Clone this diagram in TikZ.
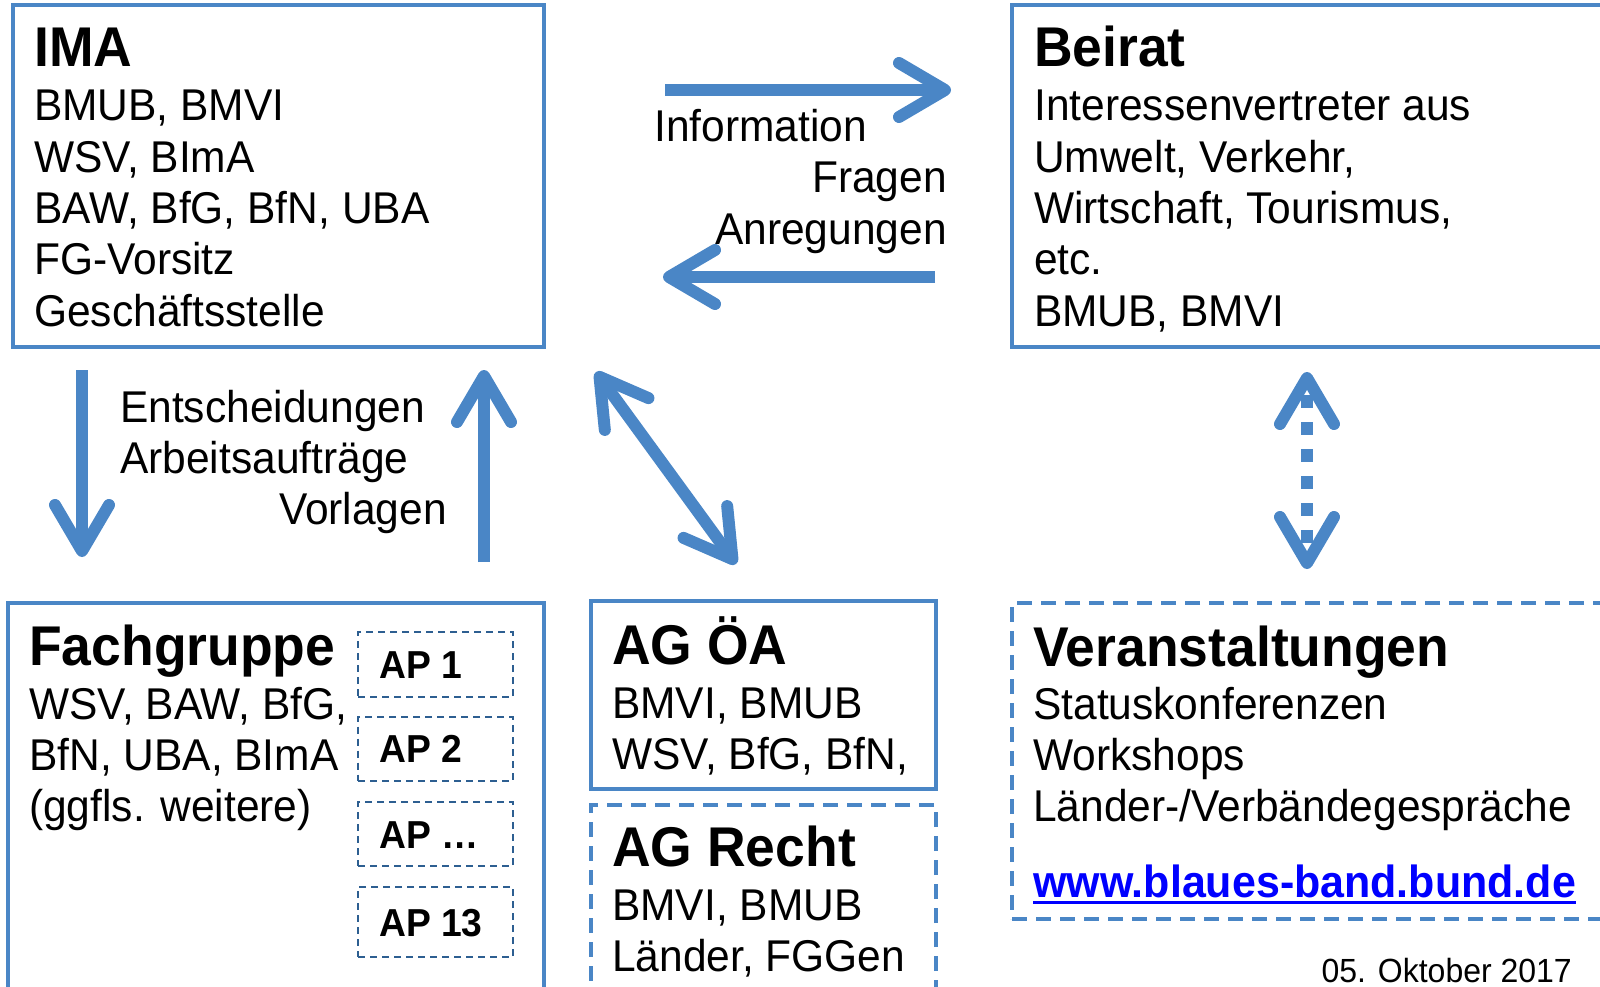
\documentclass[tikz,border=0pt]{standalone}
\usepackage{fontspec}
\setmainfont{Liberation Sans}[FakeStretch=0.955]
\usetikzlibrary{arrows.meta}

\definecolor{bandblue}{RGB}{74,134,198}
\definecolor{apblue}{RGB}{45,95,145}
\newcommand\bodyfont{\fontsize{44.5}{51}\selectfont}
\newcommand\headfont{\fontsize{56}{62}\selectfont\bfseries}
\newcommand\apfont{\fontsize{39}{45}\selectfont\bfseries}

\tikzset{
  box/.style={draw=bandblue, line width=4pt, inner sep=0pt},
  dashbox/.style={box, dash pattern=on 15pt off 9pt},
  apbox/.style={draw=apblue, line width=2pt, dash pattern=on 7pt off 5pt, minimum width=155pt, inner sep=0pt},
  head/.style={anchor=base west, inner sep=0pt, font=\headfont},
  body/.style={anchor=base west, inner sep=0pt, font=\bodyfont},
  flow/.style={bandblue, line width=12pt, ->},
  >={Straight Barb[length=46pt,width=54pt,round]},
}

\begin{document}
\begin{tikzpicture}[x=1pt, y=-1pt]
  \clip (0,0) rectangle (1600,987);

  % IMA
  \node[box, minimum width=531pt, minimum height=342pt] (ima) at (278.5,176) {};
  \node[head] (ima-t) at (34,67) {IMA};
  \foreach \t [count=\i] in {{BMUB, BMVI},{WSV, BImA},{BAW, BfG, BfN, UBA},FG-Vorsitz,Geschäftsstelle}
    \node[body] (ima-\i) at (34,{121+51.3*(\i-1)}) {\t};

  % Beirat
  \node[box, minimum width=608pt, minimum height=342pt] (beirat) at (1316,176) {};
  \node[head] (beirat-t) at (1034,67) {Beirat};
  \foreach \t [count=\i] in {Interessenvertreter aus,{Umwelt, Verkehr,},{Wirtschaft, Tourismus,},etc.,{BMUB, BMVI}}
    \node[body] (beirat-\i) at (1034,{121+51.3*(\i-1)}) {\t};

  % IMA <-> Beirat
  \coordinate (info-a) at (665,90);  \coordinate (info-b) at (951,90);
  \coordinate (frag-a) at (935,277); \coordinate (frag-b) at (663,277);
  \draw[flow] (info-a) -- (info-b);
  \draw[flow] (frag-a) -- (frag-b);
  \node[body] (info) at (654,142) {Information};
  \node[body, anchor=base east] (fragen) at (947,193) {Fragen};
  \node[body, anchor=base east] (anreg) at (947,244) {Anregungen};

  % IMA <-> Fachgruppe
  \coordinate (ent-a) at (82,370);  \coordinate (ent-b) at (82,557);
  \coordinate (vor-a) at (484,562); \coordinate (vor-b) at (484,370);
  \draw[flow] (ent-a) -- (ent-b);
  \draw[flow] (vor-a) -- (vor-b);
  \node[body] (entsch) at (120,422) {Entscheidungen};
  \node[body] (auftr) at (120,473) {Arbeitsaufträge};
  \node[body, anchor=base east] (vorl) at (447,524) {Vorlagen};

  % IMA <-> AG
  \coordinate (ag-a) at (596,372); \coordinate (ag-b) at (736,564);
  \draw[flow, <->] (ag-a) -- (ag-b);

  % Beirat <-> Veranstaltungen
  \coordinate (ver-a) at (1307,372); \coordinate (ver-b) at (1307,569);
  \draw[flow, <->, dash pattern=on 13pt off 14pt, dash phase=16pt] (ver-a) -- (ver-b);

  % Fachgruppe
  \node[box, minimum width=536pt, minimum height=407pt] (fg) at (276,806.5) {};
  \node[head] (fg-t) at (29,665) {Fachgruppe};
  \foreach \t [count=\i] in {{WSV, BAW, BfG,},{BfN, UBA, BImA},(ggfls. weitere)}
    \node[body] (fg-\i) at (29,{719+51.3*(\i-1)}) {\t};
  \foreach \n/\y/\h [count=\i] in {1/664.5/65, 2/748.5/64, …/834/64, 13/922/70}{
    \node[apbox, minimum height=\h pt] (ap\i) at (435.5,\y) {};
    \node[anchor=base west, inner sep=0pt, font=\apfont] (ap\i-l) at (379,{\y+14}) {AP \n};
  }

  % AG OeA, AG Recht
  \node[box, minimum width=345pt, minimum height=188pt] (agoea) at (763.5,695) {};
  \node[head] (agoea-t) at (612,664) {AG ÖA};
  \foreach \t [count=\i] in {{BMVI, BMUB},{WSV, BfG, BfN,}}
    \node[body] (agoea-\i) at (612,{718+51.3*(\i-1)}) {\t};
  \node[dashbox, minimum width=345pt, minimum height=205pt] (agrecht) at (763.5,907.5) {};
  \node[head] (agrecht-t) at (612,866) {AG Recht};
  \foreach \t [count=\i] in {{BMVI, BMUB},{Länder, FGGen}}
    \node[body] (agrecht-\i) at (612,{920+51.3*(\i-1)}) {\t};

  % Veranstaltungen
  \node[dashbox, minimum width=608pt, minimum height=316pt] (veran) at (1316,761) {};
  \node[head] (veran-t) at (1033,666) {Veranstaltungen};
  \foreach \t [count=\i] in {Statuskonferenzen,Workshops,Länder-/Verbändegespräche}
    \node[body] (veran-\i) at (1033,{719+51.3*(\i-1)}) {\t};
  \node[body, font=\fontsize{45}{51}\selectfont\bfseries, text=blue] (url) at (1033,897) {www.blaues-band.bund.de};
  \draw[blue, line width=3pt] ([yshift=-5pt]url.base west) -- ([yshift=-5pt]url.base east);

  \node[anchor=base east, inner sep=0pt, font=\fontsize{33.5}{40}\selectfont] (date) at (1572,982) {05. Oktober 2017};
\end{tikzpicture}
\end{document}
